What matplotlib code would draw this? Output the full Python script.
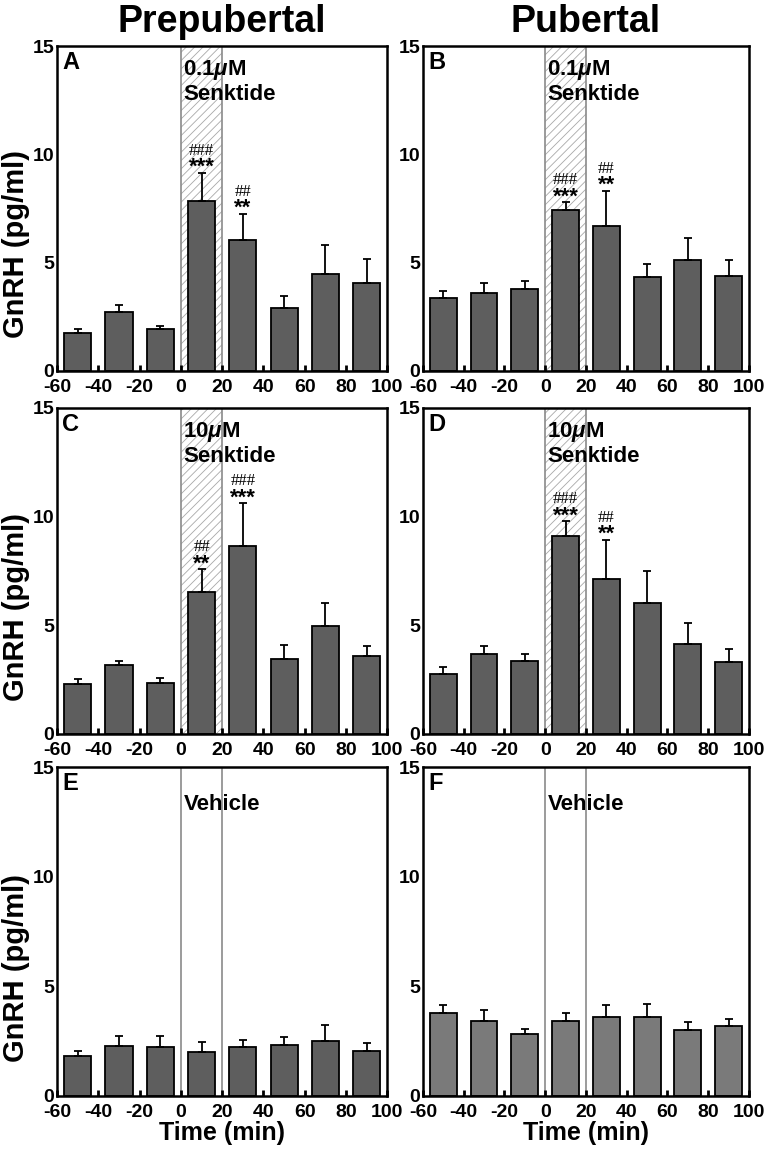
import matplotlib
matplotlib.use("Agg")
import matplotlib.pyplot as plt
import numpy as np

plt.rcParams['font.family'] = ['Liberation Sans', 'DejaVu Sans']
plt.rcParams['font.weight'] = 'bold'
plt.rcParams['hatch.linewidth'] = 0.6
plt.rcParams['axes.unicode_minus'] = False
plt.rcParams['mathtext.fontset'] = 'custom'
plt.rcParams['mathtext.it'] = 'Liberation Sans:italic:bold'
plt.rcParams['mathtext.rm'] = 'Liberation Sans:bold'

times = [-50, -30, -10, 10, 30, 50, 70, 90]

# mean GnRH (pg/ml) and top of SEM bar, per panel
a_mean = [1.77, 2.71, 1.92, 7.85, 6.05, 2.91, 4.46, 4.08]
a_top = [1.92, 3.06, 2.08, 9.14, 7.26, 3.46, 5.83, 5.15]
b_mean = [3.37, 3.61, 3.79, 7.41, 6.67, 4.36, 5.13, 4.39]
b_top = [3.70, 4.08, 4.13, 7.78, 8.31, 4.93, 6.15, 5.13]
c_mean = [2.27, 3.15, 2.33, 6.54, 8.65, 3.46, 4.96, 3.59]
c_top = [2.52, 3.33, 2.57, 7.57, 10.6, 4.07, 6.02, 4.04]
d_mean = [2.77, 3.65, 3.35, 9.08, 7.11, 6.03, 4.14, 3.32]
d_top = [3.09, 4.06, 3.65, 9.78, 8.91, 7.51, 5.12, 3.89]
e_mean = [1.80, 2.26, 2.20, 2.00, 2.20, 2.31, 2.49, 2.05]
e_top = [2.02, 2.70, 2.73, 2.44, 2.56, 2.66, 3.22, 2.38]
f_mean = [3.79, 3.39, 2.82, 3.39, 3.60, 3.59, 3.01, 3.18]
f_top = [4.15, 3.89, 3.05, 3.76, 4.12, 4.17, 3.36, 3.51]

# significance marks: (bar index, stars, hashes)
a_sig = [(3, '***', '###'), (4, '**', '##')]
b_sig = [(3, '***', '###'), (4, '**', '##')]
c_sig = [(3, '**', '##'), (4, '***', '###')]
d_sig = [(3, '***', '###'), (4, '**', '##')]

panels = [
    ('A', a_mean, a_top, a_sig, '0.1$\\mu$M\nSenktide', '#5e5e5e'),
    ('B', b_mean, b_top, b_sig, '0.1$\\mu$M\nSenktide', '#5e5e5e'),
    ('C', c_mean, c_top, c_sig, '10$\\mu$M\nSenktide', '#5e5e5e'),
    ('D', d_mean, d_top, d_sig, '10$\\mu$M\nSenktide', '#5e5e5e'),
    ('E', e_mean, e_top, [], 'Vehicle', '#5e5e5e'),
    ('F', f_mean, f_top, [], 'Vehicle', '#7a7a7a'),
]

fig = plt.figure(figsize=(7.73, 11.52), dpi=100)

lefts = [0.074, 0.547]
widths = [0.427, 0.422]
bottoms = [0.678, 0.363, 0.049]
heights = [0.282, 0.283, 0.285]

for i, (letter, mean, top, sig, label, color) in enumerate(panels):
    row, col = divmod(i, 2)
    ax = fig.add_axes([lefts[col], bottoms[row], widths[col], heights[row]])
    mean = np.array(mean)
    top = np.array(top)

    if letter in 'EF':
        ax.text(1.5, 13.3, label, fontsize=16, fontweight='bold', va='center', ha='left')
    else:
        ax.axvspan(0, 20, facecolor='white', edgecolor='#a8a8a8', hatch='////', lw=0, zorder=1)
        ax.text(1, 13.37, label, fontsize=16, fontweight='bold', va='center', ha='left',
                linespacing=1.1)
    ax.axvline(0, color='#8a8a8a', lw=1.2, zorder=1)
    ax.axvline(20, color='#8a8a8a', lw=1.2, zorder=1)

    ax.bar(times, mean, width=13.2, color=color, edgecolor='black', lw=1.3, zorder=2)
    ax.errorbar(times, mean, yerr=[np.zeros_like(mean), top - mean], fmt='none',
                ecolor='black', elinewidth=1.3, capsize=3, capthick=1.3, zorder=3)

    for idx, stars, hashes in sig:
        ax.text(times[idx], top[idx] + 0.0, stars, ha='center', va='baseline',
                fontsize=16, fontweight='bold', zorder=4)
        ax.text(times[idx], top[idx] + 0.84, hashes, ha='center', va='baseline',
                fontsize=12, family='Liberation Serif', fontweight='normal', zorder=4)

    ax.text(-57.5, 14.25, letter, fontsize=17, fontweight='bold', va='center', ha='left')

    ax.set_xlim(-60, 100)
    ax.set_ylim(0, 15)
    ax.set_xticks(range(-60, 101, 20))
    ax.set_yticks([0, 5, 10, 15])
    ax.tick_params(axis='x', direction='in', length=4, width=2, labelsize=14, pad=6)
    ax.tick_params(axis='y', length=0, labelsize=14, pad=2)
    for lab in ax.get_xticklabels() + ax.get_yticklabels():
        lab.set_fontweight('bold')
    for s in ax.spines.values():
        s.set_linewidth(1.8)

    if col == 0:
        ax.set_ylabel('GnRH (pg/ml)', fontsize=21, fontweight='bold')
        ax.yaxis.set_label_coords(-0.082, 0.39)
    if row == 2:
        ax.set_xlabel('Time (min)', fontsize=18, fontweight='bold', labelpad=0)

fig.text(0.074 + 0.427 / 2, 0.972, 'Prepubertal', ha='center', va='baseline',
         fontsize=27, fontweight='bold')
fig.text(0.547 + 0.422 / 2, 0.972, 'Pubertal', ha='center', va='baseline',
         fontsize=27, fontweight='bold')

fig.savefig('out.png', dpi=100)
